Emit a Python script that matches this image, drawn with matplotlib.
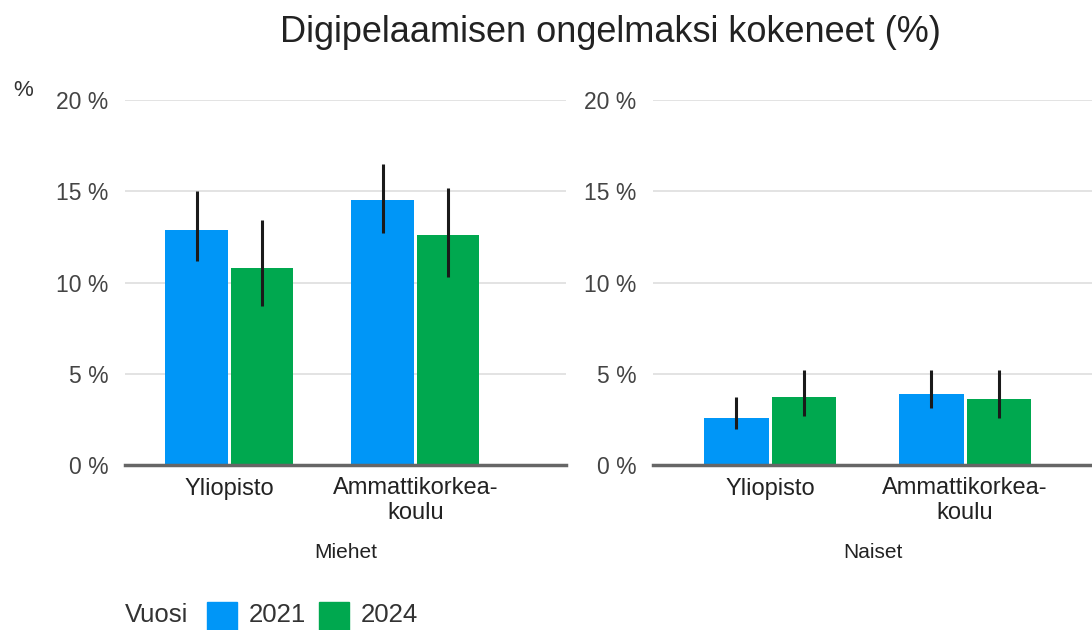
import numpy as np
import matplotlib

matplotlib.use("Agg")
import matplotlib.pyplot as plt

plt.rcParams["font.family"] = ["Liberation Sans", "DejaVu Sans"]

# =============================================================================
# データ
# =============================================================================
categories = ["Yliopisto", "Ammattikorkea-\nkoulu"]
groups = ["Miehet", "Naiset"]
years = ["2021", "2024"]

# 値 [%]
miehet_2021 = [12.9, 14.5]
miehet_2024 = [10.8, 12.6]
naiset_2021 = [2.6, 3.9]
naiset_2024 = [3.7, 3.6]

# 信頼区間(下限, 上限) [%]
miehet_2021_lo = [11.2, 12.7]
miehet_2021_hi = [15.0, 16.5]
miehet_2024_lo = [8.7, 10.3]
miehet_2024_hi = [13.4, 15.2]
naiset_2021_lo = [2.0, 3.1]
naiset_2021_hi = [3.7, 5.2]
naiset_2024_lo = [2.7, 2.6]
naiset_2024_hi = [5.2, 5.2]

yticks = [0, 5, 10, 15, 20]

C_2021 = "#0096f7"
C_2024 = "#00a84f"

W, H = 1092, 630
fig = plt.figure(figsize=(W / 100, H / 100), dpi=100)


def px_axes(x0, x1, y_top, y_bot):
    return fig.add_axes([x0 / W, 1 - y_bot / H, (x1 - x0) / W, (y_bot - y_top) / H])


def draw_panel(ax, v21, v24, lo21, hi21, lo24, hi24, xlim, bw, label):
    x = np.arange(len(categories))
    off = bw / 2 + 0.008
    for xs, v, lo, hi, c in [(x - off, v21, lo21, hi21, C_2021),
                             (x + off, v24, lo24, hi24, C_2024)]:
        v = np.asarray(v)
        ax.bar(xs, v, width=bw, color=c, zorder=2)
        yerr = np.vstack([v - np.asarray(lo), np.asarray(hi) - v])
        ax.errorbar(xs, v, yerr=yerr, fmt="none", ecolor="#1a1a1a",
                    elinewidth=2.2, capsize=0, zorder=3)
    ax.set_xlim(*xlim)
    ax.set_ylim(0, 20)
    ax.set_yticks(yticks)
    ax.set_yticklabels([f"{t} %" for t in yticks], fontsize=16.5, color="#444444")
    ax.set_xticks(x)
    ax.set_xticklabels(categories, fontsize=17, color="#222222",
                       linespacing=1.15)
    ax.tick_params(axis="x", length=0, pad=9)
    ax.tick_params(axis="y", length=0, pad=12)
    ax.grid(axis="y", color="#e0e0e0", lw=1.3, zorder=0)
    ax.set_axisbelow(True)
    for s in ["top", "right", "left"]:
        ax.spines[s].set_visible(False)
    ax.spines["bottom"].set_color("#666666")
    ax.spines["bottom"].set_linewidth(2.5)
    ax.spines["bottom"].set_zorder(4)
    # グループ名
    ax.text(0.5, 1 - (552 - 100) / 365, label, transform=ax.transAxes,
            ha="center", va="center", fontsize=15, color="#222222")


ax1 = px_axes(125, 566, 100, 465)
ax2 = px_axes(653, 1092, 100, 465)
draw_panel(ax1, miehet_2021, miehet_2024, miehet_2021_lo, miehet_2021_hi,
           miehet_2024_lo, miehet_2024_hi, (-0.56, 1.81), 0.335, groups[0])
draw_panel(ax2, naiset_2021, naiset_2024, naiset_2021_lo, naiset_2021_hi,
           naiset_2024_lo, naiset_2024_hi, (-0.60, 1.65), 0.33, groups[1])

fig.text(610 / W, 1 - 32 / H, "Digipelaamisen ongelmaksi kokeneet (%)",
         ha="center", va="center", fontsize=26, color="#222222")
fig.text(23 / W, 1 - 90 / H, "%", ha="center", va="center", fontsize=16,
         color="#333333")

# 凡例
fig.text(125 / W, 1 - 615 / H, "Vuosi", ha="left", va="center",
         fontsize=18.5, color="#333333")
for x0, c, t in [(207, C_2021, years[0]), (319, C_2024, years[1])]:
    fig.patches.append(plt.Rectangle((x0 / W, 1 - 632 / H), 30 / W, 30 / H,
                                     transform=fig.transFigure, color=c))
    fig.text((x0 + 42) / W, 1 - 615 / H, t, ha="left", va="center",
             fontsize=18.5, color="#333333")

plt.savefig("out.png", dpi=100)
plt.close()
